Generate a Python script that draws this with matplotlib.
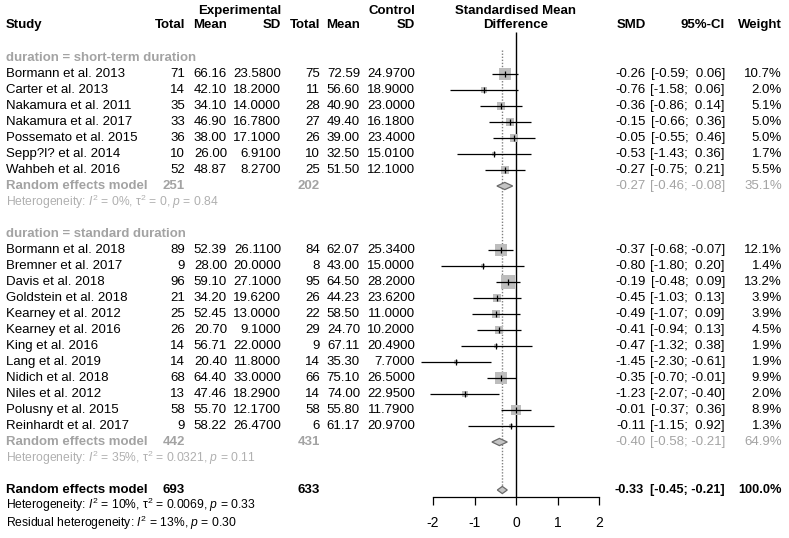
import numpy as np
import matplotlib
matplotlib.use("Agg")
import matplotlib.pyplot as plt
from matplotlib.patches import Polygon

plt.rcParams["font.family"] = ["Liberation Sans", "DejaVu Sans"]
plt.rcParams["mathtext.fontset"] = "custom"
plt.rcParams["mathtext.rm"] = "Liberation Sans"
plt.rcParams["mathtext.it"] = "Liberation Sans:italic"

# ---- data ----
grp1_label = "duration = short-term duration"
grp1_study = ["Bormann et al. 2013", "Carter et al. 2013", "Nakamura et al. 2011",
              "Nakamura et al. 2017", "Possemato et al. 2015", "Sepp?l? et al. 2014",
              "Wahbeh et al. 2016"]
grp1_e_n = [71, 14, 35, 33, 36, 10, 52]
grp1_e_mean = [66.16, 42.10, 34.10, 46.90, 38.00, 26.00, 48.87]
grp1_e_sd = [23.58, 18.20, 14.00, 16.78, 17.10, 6.91, 8.27]
grp1_c_n = [75, 11, 28, 27, 26, 10, 25]
grp1_c_mean = [72.59, 56.60, 40.90, 49.40, 39.00, 32.50, 51.50]
grp1_c_sd = [24.97, 18.90, 23.00, 16.18, 23.40, 15.01, 12.10]
grp1_smd = [-0.26, -0.76, -0.36, -0.15, -0.05, -0.53, -0.27]
grp1_lo = [-0.59, -1.58, -0.86, -0.66, -0.55, -1.43, -0.75]
grp1_hi = [0.06, 0.06, 0.14, 0.36, 0.46, 0.36, 0.21]
grp1_w = [10.7, 2.0, 5.1, 5.0, 5.0, 1.7, 5.5]
grp1_re = (-0.27, -0.46, -0.08, 35.1, 251, 202)
grp1_het = "Heterogeneity: $I^2$ = 0%, τ$^2$ = 0, $p$ = 0.84"

grp2_label = "duration = standard duration"
grp2_study = ["Bormann et al. 2018", "Bremner et al. 2017", "Davis et al. 2018",
              "Goldstein et al. 2018", "Kearney et al. 2012", "Kearney et al. 2016",
              "King et al. 2016", "Lang et al. 2019", "Nidich et al. 2018",
              "Niles et al. 2012", "Polusny et al. 2015", "Reinhardt et al. 2017"]
grp2_e_n = [89, 9, 96, 21, 25, 26, 14, 14, 68, 13, 58, 9]
grp2_e_mean = [52.39, 28.00, 59.10, 34.20, 52.45, 20.70, 56.71, 20.40, 64.40, 47.46, 55.70, 58.22]
grp2_e_sd = [26.11, 20.00, 27.10, 19.62, 13.00, 9.10, 22.00, 11.80, 33.00, 18.29, 12.17, 26.47]
grp2_c_n = [84, 8, 95, 26, 22, 29, 9, 14, 66, 14, 58, 6]
grp2_c_mean = [62.07, 43.00, 64.50, 44.23, 58.50, 24.70, 67.11, 35.30, 75.10, 74.00, 55.80, 61.17]
grp2_c_sd = [25.34, 15.00, 28.20, 23.62, 11.00, 10.20, 20.49, 7.70, 26.50, 22.95, 11.79, 20.97]
grp2_smd = [-0.37, -0.80, -0.19, -0.45, -0.49, -0.41, -0.47, -1.45, -0.35, -1.23, -0.01, -0.11]
grp2_lo = [-0.68, -1.80, -0.48, -1.03, -1.07, -0.94, -1.32, -2.30, -0.70, -2.07, -0.37, -1.15]
grp2_hi = [-0.07, 0.20, 0.09, 0.13, 0.09, 0.13, 0.38, -0.61, -0.01, -0.40, 0.36, 0.92]
grp2_w = [12.1, 1.4, 13.2, 3.9, 3.9, 4.5, 1.9, 1.9, 9.9, 2.0, 8.9, 1.3]
grp2_re = (-0.40, -0.58, -0.21, 64.9, 442, 431)
grp2_het = "Heterogeneity: $I^2$ = 35%, τ$^2$ = 0.0321, $p$ = 0.11"

overall_re = (-0.33, -0.45, -0.21, 100.0, 693, 633)
overall_het = "Heterogeneity: $I^2$ = 10%, τ$^2$ = 0.0069, $p$ = 0.33"
resid_het = "Residual heterogeneity: $I^2$ = 13%, $p$ = 0.30"

x_ticks = [-2, -1, 0, 1, 2]

groups = [
    (grp1_label, grp1_study, grp1_e_n, grp1_e_mean, grp1_e_sd, grp1_c_n, grp1_c_mean,
     grp1_c_sd, grp1_smd, grp1_lo, grp1_hi, grp1_w, grp1_re, grp1_het),
    (grp2_label, grp2_study, grp2_e_n, grp2_e_mean, grp2_e_sd, grp2_c_n, grp2_c_mean,
     grp2_c_sd, grp2_smd, grp2_lo, grp2_hi, grp2_w, grp2_re, grp2_het),
]

# ---- layout (pixels / rows) ----
W, H, DPI = 789, 538, 100
ROW0, ROWH = 74, 16          # pixel y of first study row, row height
def prow(px):
    return (px - ROW0) / ROWH

FS = 9.5
FS_HET = 8.7
GREY = "#a3a3a3"
x_study, x_etot, x_emean, x_esd = 6, 185, 227, 281
x_ctot, x_cmean, x_csd = 320, 360, 415
x_smd, x_ci, x_w = 646, 725, 782
AX_L, AX_R, AX_Y = 433, 599, 497

fig = plt.figure(figsize=(W / DPI, H / DPI), dpi=DPI)
tx = fig.add_axes([0, 0, 1, 1])
tx.set_xlim(0, W)
tx.set_ylim(prow(H), prow(0))
tx.axis("off")

fx = fig.add_axes([AX_L / W, (H - AX_Y) / H, (AX_R - AX_L) / W, AX_Y / H])
fx.set_xlim(-2, 2)
fx.set_ylim(prow(AX_Y), prow(0))
for s in ["top", "left", "right"]:
    fx.spines[s].set_visible(False)
fx.spines["bottom"].set_bounds(-2, 2)
fx.spines["bottom"].set_linewidth(0.9)
fx.set_yticks([])
fx.set_xticks(x_ticks)
fx.set_xticklabels([str(t) for t in x_ticks])
fx.tick_params(axis="x", direction="out", length=6, width=0.9, pad=8, labelsize=10)
fx.patch.set_alpha(0)


def txt(x, y, s, ha="right", color="black", weight="normal", size=FS):
    tx.text(x, y, s, ha=ha, va="center", fontsize=size, color=color, fontweight=weight)


def ci_str(lo, hi):
    a = f"{lo:.2f}" if lo < 0 else f" {lo:.2f}"
    b = f"{hi:.2f}" if hi < 0 else f" {hi:.2f}"
    return f"[{a}; {b}]"


def diamond(est, lo, hi, y, face="#c4c4c4", edge="#6a6a6a"):
    h = 3.6 / ROWH
    fx.add_patch(Polygon([(lo, y), (est, y - h), (hi, y), (est, y + h)], closed=True,
                         facecolor=face, edgecolor=edge, linewidth=0.9, clip_on=False,
                         zorder=4))


# headers
y_h1, y_h2 = prow(11), prow(25)
txt(x_esd, y_h1, "Experimental", weight="bold")
txt(x_csd, y_h1, "Control", weight="bold")
txt(516, y_h1, "Standardised Mean", ha="center", weight="bold")
txt(x_study, y_h2, "Study", ha="left", weight="bold")
for xx, s in [(x_etot, "Total"), (x_emean, "Mean"), (x_esd, "SD"), (x_ctot, "Total"),
              (x_cmean, "Mean"), (x_csd, "SD"), (x_smd, "SMD"), (x_ci, "95%-CI"),
              (x_w, "Weight")]:
    txt(xx, y_h2, s, weight="bold")
txt(516, y_h2, "Difference", ha="center", weight="bold")

# reference line at zero
fx.vlines(0, prow(32), prow(AX_Y), color="black", linewidth=1.0, clip_on=False, zorder=2)

r = -1
for (lab, study, en, em, esd, cn, cm, csd, smd, lo, hi, w, re, het) in groups:
    txt(x_study, r, lab, ha="left", color=GREY, weight="bold")
    r += 1
    for i in range(len(study)):
        txt(x_study, r, study[i], ha="left")
        txt(x_etot, r, f"{en[i]}")
        txt(x_emean, r, f"{em[i]:.2f}")
        txt(x_esd, r, f"{esd[i]:.4f}")
        txt(x_ctot, r, f"{cn[i]}")
        txt(x_cmean, r, f"{cm[i]:.2f}")
        txt(x_csd, r, f"{csd[i]:.4f}")
        txt(x_smd, r, f"{smd[i]:.2f}")
        txt(x_ci, r, ci_str(lo[i], hi[i]))
        txt(x_w, r, f"{w[i]:.1f}%")
        side = 3.6 * np.sqrt(w[i]) * 0.72
        fx.plot(smd[i], r, marker="s", markersize=side, color="#bdbdbd",
                markeredgewidth=0, zorder=3, clip_on=False)
        fx.hlines(r, lo[i], hi[i], color="black", linewidth=0.9, zorder=4, clip_on=False)
        fx.plot(smd[i], r, marker="|", markersize=4.5, color="black",
                markeredgewidth=0.9, zorder=5, clip_on=False)
        r += 1
    est, rlo, rhi, rw, ne, nc = re
    txt(x_study, r, "Random effects model", ha="left", color=GREY, weight="bold")
    txt(x_etot, r, f"{ne}", color=GREY, weight="bold")
    txt(x_ctot, r, f"{nc}", color=GREY, weight="bold")
    txt(x_smd, r, f"{est:.2f}", color=GREY)
    txt(x_ci, r, ci_str(rlo, rhi), color=GREY)
    txt(x_w, r, f"{rw:.1f}%", color=GREY)
    diamond(est, rlo, rhi, r)
    r += 1
    tx.text(x_study, r, het, ha="left", va="center", fontsize=FS_HET, color="#b0b0b0")
    r += 2

est, rlo, rhi, rw, ne, nc = overall_re
txt(x_study, r, "Random effects model", ha="left", weight="bold")
txt(x_etot, r, f"{ne}", weight="bold")
txt(x_ctot, r, f"{nc}", weight="bold")
txt(x_smd - 2, r, f"{est:.2f}", weight="bold", size=9.2)
txt(x_ci, r, ci_str(rlo, rhi), weight="bold", size=9.2)
txt(x_w, r, f"{rw:.1f}%", weight="bold", size=9.2)
diamond(est, rlo, rhi, r)
fx.vlines(est, prow(50), r - 3.6 / ROWH, color="#808080", linewidth=1.0,
          linestyles=(0, (1, 1.2)), clip_on=False, zorder=1)
tx.text(x_study, r + 0.95, overall_het, ha="left", va="center", fontsize=FS_HET)
tx.text(x_study, r + 2.05, resid_het, ha="left", va="center", fontsize=FS_HET)

fig.savefig("out.png", dpi=DPI)
